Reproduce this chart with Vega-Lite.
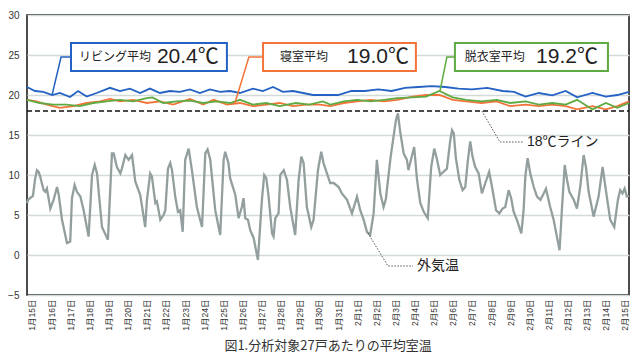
{
  "$schema": "https://vega.github.io/schema/vega-lite/v6.json",
  "width": 602,
  "height": 280,
  "autosize": {"type": "none"},
  "padding": {"left": 27, "top": 15, "right": 11, "bottom": 64},
  "background": "white",
  "config": {
    "view": {"stroke": "#111", "strokeWidth": 1.5},
    "font": "Liberation Sans, Noto Sans CJK JP"
  },
  "title": {
    "text": "図1.分析対象27戸あたりの平均室温",
    "orient": "bottom",
    "fontSize": 13,
    "fontWeight": "normal",
    "color": "#333",
    "font": "Noto Sans CJK JP",
    "offset": 10
  },
  "datasets": {
    "outdoor": [
      {"d": -0.26, "v": 6.5}, {"d": -0.2, "v": 6.9}, {"d": -0.1, "v": 7.1}, {"d": 0.05, "v": 7.4}, {"d": 0.17, "v": 9.6}, {"d": 0.26, "v": 10.6}, {"d": 0.35, "v": 10.4}, {"d": 0.43, "v": 9.8}, {"d": 0.61, "v": 8.1}, {"d": 0.7, "v": 7.9}, {"d": 0.78, "v": 8.3}, {"d": 0.96, "v": 5.8}, {"d": 1.13, "v": 6.9}, {"d": 1.31, "v": 8.5}, {"d": 1.4, "v": 7.5}, {"d": 1.57, "v": 4.4}, {"d": 1.83, "v": 1.5}, {"d": 2.0, "v": 1.7}, {"d": 2.09, "v": 7.1}, {"d": 2.23, "v": 8.75}, {"d": 2.35, "v": 7.9}, {"d": 2.53, "v": 7.3}, {"d": 2.7, "v": 5.6}, {"d": 2.96, "v": 2.3}, {"d": 3.14, "v": 10.0}, {"d": 3.28, "v": 11.25}, {"d": 3.4, "v": 10.2}, {"d": 3.66, "v": 3.5}, {"d": 3.97, "v": 1.9}, {"d": 4.18, "v": 12.7}, {"d": 4.27, "v": 12.7}, {"d": 4.44, "v": 11.0}, {"d": 4.62, "v": 10.2}, {"d": 4.7, "v": 10.8}, {"d": 4.88, "v": 12.5}, {"d": 5.05, "v": 11.9}, {"d": 5.23, "v": 12.5}, {"d": 5.4, "v": 9.2}, {"d": 5.66, "v": 7.5}, {"d": 5.92, "v": 3.5}, {"d": 6.01, "v": 6.9}, {"d": 6.18, "v": 10.2}, {"d": 6.27, "v": 9.8}, {"d": 6.45, "v": 6.5}, {"d": 6.53, "v": 6.7}, {"d": 6.71, "v": 4.4}, {"d": 6.88, "v": 5.0}, {"d": 6.97, "v": 5.6}, {"d": 7.11, "v": 10.8}, {"d": 7.23, "v": 11.5}, {"d": 7.32, "v": 10.6}, {"d": 7.49, "v": 7.3}, {"d": 7.63, "v": 5.4}, {"d": 7.75, "v": 5.6}, {"d": 7.88, "v": 2.9}, {"d": 8.01, "v": 11.9}, {"d": 8.19, "v": 13.3}, {"d": 8.36, "v": 10.6}, {"d": 8.62, "v": 6.0}, {"d": 8.89, "v": 3.5}, {"d": 9.06, "v": 12.7}, {"d": 9.18, "v": 13.2}, {"d": 9.32, "v": 11.9}, {"d": 9.58, "v": 5.6}, {"d": 9.84, "v": 2.5}, {"d": 10.02, "v": 11.9}, {"d": 10.1, "v": 12.9}, {"d": 10.27, "v": 11.5}, {"d": 10.36, "v": 9.6}, {"d": 10.63, "v": 7.5}, {"d": 10.8, "v": 4.6}, {"d": 10.97, "v": 6.0}, {"d": 11.06, "v": 7.1}, {"d": 11.15, "v": 4.6}, {"d": 11.29, "v": 4.4}, {"d": 11.41, "v": 3.1}, {"d": 11.59, "v": 2.1}, {"d": 11.81, "v": -0.6}, {"d": 12.02, "v": 6.9}, {"d": 12.14, "v": 10.0}, {"d": 12.25, "v": 9.6}, {"d": 12.37, "v": 7.3}, {"d": 12.55, "v": 2.7}, {"d": 12.63, "v": 2.3}, {"d": 12.72, "v": 4.6}, {"d": 12.89, "v": 5.2}, {"d": 12.98, "v": 10.0}, {"d": 13.16, "v": 10.6}, {"d": 13.33, "v": 9.4}, {"d": 13.5, "v": 6.0}, {"d": 13.76, "v": 2.5}, {"d": 13.94, "v": 9.4}, {"d": 14.08, "v": 12.3}, {"d": 14.2, "v": 11.5}, {"d": 14.37, "v": 6.0}, {"d": 14.6, "v": 3.5}, {"d": 14.72, "v": 4.4}, {"d": 14.95, "v": 10.6}, {"d": 15.12, "v": 12.9}, {"d": 15.24, "v": 11.5}, {"d": 15.42, "v": 10.2}, {"d": 15.59, "v": 9.0}, {"d": 15.77, "v": 9.0}, {"d": 16.03, "v": 8.5}, {"d": 16.2, "v": 7.7}, {"d": 16.47, "v": 6.9}, {"d": 16.73, "v": 5.2}, {"d": 16.99, "v": 7.3}, {"d": 17.16, "v": 5.6}, {"d": 17.34, "v": 4.4}, {"d": 17.51, "v": 2.9}, {"d": 17.68, "v": 2.5}, {"d": 17.86, "v": 5.2}, {"d": 18.03, "v": 11.9}, {"d": 18.21, "v": 7.7}, {"d": 18.38, "v": 6.0}, {"d": 18.5, "v": 7.0}, {"d": 18.73, "v": 11.9}, {"d": 18.9, "v": 14.8}, {"d": 19.03, "v": 16.9}, {"d": 19.13, "v": 17.7}, {"d": 19.25, "v": 15.4}, {"d": 19.43, "v": 12.7}, {"d": 19.6, "v": 11.9}, {"d": 19.68, "v": 10.6}, {"d": 19.83, "v": 12.1}, {"d": 19.98, "v": 13.5}, {"d": 20.13, "v": 9.4}, {"d": 20.3, "v": 6.5}, {"d": 20.48, "v": 5.4}, {"d": 20.69, "v": 4.6}, {"d": 20.87, "v": 11.0}, {"d": 21.03, "v": 13.3}, {"d": 21.16, "v": 12.1}, {"d": 21.34, "v": 10.0}, {"d": 21.51, "v": 10.4}, {"d": 21.69, "v": 10.8}, {"d": 21.87, "v": 14.4}, {"d": 21.96, "v": 15.6}, {"d": 22.05, "v": 15.2}, {"d": 22.16, "v": 12.1}, {"d": 22.34, "v": 9.4}, {"d": 22.51, "v": 8.1}, {"d": 22.65, "v": 8.5}, {"d": 22.79, "v": 11.9}, {"d": 22.91, "v": 14.2}, {"d": 23.03, "v": 12.3}, {"d": 23.17, "v": 11.0}, {"d": 23.35, "v": 10.2}, {"d": 23.52, "v": 7.7}, {"d": 23.7, "v": 9.0}, {"d": 23.9, "v": 10.4}, {"d": 24.08, "v": 8.1}, {"d": 24.26, "v": 5.6}, {"d": 24.43, "v": 5.2}, {"d": 24.6, "v": 5.8}, {"d": 24.74, "v": 6.0}, {"d": 24.92, "v": 8.1}, {"d": 25.05, "v": 7.1}, {"d": 25.18, "v": 5.4}, {"d": 25.35, "v": 4.4}, {"d": 25.58, "v": 2.7}, {"d": 25.7, "v": 5.6}, {"d": 25.79, "v": 9.8}, {"d": 25.91, "v": 12.1}, {"d": 26.05, "v": 10.2}, {"d": 26.23, "v": 8.5}, {"d": 26.4, "v": 7.3}, {"d": 26.58, "v": 6.9}, {"d": 26.75, "v": 7.7}, {"d": 26.87, "v": 8.3}, {"d": 27.09, "v": 6.0}, {"d": 27.27, "v": 4.4}, {"d": 27.44, "v": 2.3}, {"d": 27.58, "v": 0.6}, {"d": 27.7, "v": 5.6}, {"d": 27.85, "v": 11.25}, {"d": 27.97, "v": 9.4}, {"d": 28.09, "v": 7.9}, {"d": 28.32, "v": 6.9}, {"d": 28.49, "v": 5.8}, {"d": 28.66, "v": 8.5}, {"d": 28.84, "v": 12.5}, {"d": 28.96, "v": 11.0}, {"d": 29.1, "v": 7.9}, {"d": 29.36, "v": 4.8}, {"d": 29.62, "v": 7.3}, {"d": 29.83, "v": 11.0}, {"d": 30.0, "v": 8.1}, {"d": 30.23, "v": 4.4}, {"d": 30.44, "v": 3.5}, {"d": 30.63, "v": 6.9}, {"d": 30.75, "v": 8.1}, {"d": 30.87, "v": 7.7}, {"d": 30.98, "v": 8.3}, {"d": 31.1, "v": 7.3}, {"d": 31.21, "v": 7.4}
    ],
    "living": [
      {"d": -0.26, "v": 21.0}, {"d": 0.16, "v": 20.5}, {"d": 0.59, "v": 20.4}, {"d": 1.06, "v": 20.0}, {"d": 1.46, "v": 20.25}, {"d": 1.99, "v": 19.75}, {"d": 2.41, "v": 20.5}, {"d": 2.86, "v": 19.8}, {"d": 3.38, "v": 20.25}, {"d": 4.08, "v": 20.9}, {"d": 4.6, "v": 20.5}, {"d": 5.12, "v": 20.8}, {"d": 5.65, "v": 20.25}, {"d": 6.17, "v": 20.8}, {"d": 6.69, "v": 20.25}, {"d": 7.21, "v": 20.5}, {"d": 7.74, "v": 20.4}, {"d": 8.26, "v": 20.7}, {"d": 8.78, "v": 20.25}, {"d": 9.3, "v": 20.7}, {"d": 9.83, "v": 20.4}, {"d": 10.35, "v": 20.5}, {"d": 10.87, "v": 20.25}, {"d": 11.55, "v": 20.8}, {"d": 12.07, "v": 20.5}, {"d": 12.6, "v": 21.0}, {"d": 13.12, "v": 20.4}, {"d": 13.64, "v": 20.5}, {"d": 14.17, "v": 20.25}, {"d": 14.69, "v": 20.0}, {"d": 15.42, "v": 20.0}, {"d": 16.0, "v": 20.0}, {"d": 16.7, "v": 20.5}, {"d": 17.4, "v": 20.5}, {"d": 18.1, "v": 20.7}, {"d": 18.8, "v": 20.5}, {"d": 19.5, "v": 20.9}, {"d": 20.2, "v": 21.0}, {"d": 20.9, "v": 21.1}, {"d": 21.6, "v": 21.0}, {"d": 22.3, "v": 20.8}, {"d": 23.0, "v": 20.7}, {"d": 23.8, "v": 20.9}, {"d": 24.6, "v": 20.5}, {"d": 25.2, "v": 20.4}, {"d": 25.8, "v": 19.8}, {"d": 26.5, "v": 20.25}, {"d": 27.2, "v": 19.95}, {"d": 27.9, "v": 20.5}, {"d": 28.5, "v": 19.7}, {"d": 29.3, "v": 20.25}, {"d": 30.0, "v": 19.8}, {"d": 30.6, "v": 20.0}, {"d": 31.21, "v": 20.4}
    ],
    "bedroom": [
      {"d": -0.26, "v": 19.4}, {"d": 0.25, "v": 19.2}, {"d": 0.77, "v": 18.8}, {"d": 1.46, "v": 18.4}, {"d": 2.16, "v": 18.6}, {"d": 2.86, "v": 19.0}, {"d": 3.56, "v": 19.2}, {"d": 4.08, "v": 19.5}, {"d": 4.6, "v": 19.2}, {"d": 5.3, "v": 19.4}, {"d": 6.0, "v": 19.0}, {"d": 6.69, "v": 19.2}, {"d": 7.38, "v": 18.8}, {"d": 8.26, "v": 19.5}, {"d": 8.95, "v": 18.8}, {"d": 9.5, "v": 19.4}, {"d": 10.2, "v": 18.8}, {"d": 10.87, "v": 19.0}, {"d": 11.55, "v": 18.6}, {"d": 12.25, "v": 18.8}, {"d": 12.95, "v": 19.0}, {"d": 13.64, "v": 18.6}, {"d": 14.35, "v": 18.8}, {"d": 15.05, "v": 18.8}, {"d": 15.6, "v": 18.6}, {"d": 16.3, "v": 19.0}, {"d": 17.0, "v": 19.2}, {"d": 17.7, "v": 19.4}, {"d": 18.4, "v": 19.2}, {"d": 19.1, "v": 19.4}, {"d": 19.9, "v": 19.8}, {"d": 20.6, "v": 20.0}, {"d": 21.3, "v": 20.0}, {"d": 22.0, "v": 19.4}, {"d": 22.7, "v": 19.2}, {"d": 23.5, "v": 19.0}, {"d": 24.3, "v": 19.2}, {"d": 25.0, "v": 18.6}, {"d": 25.8, "v": 18.8}, {"d": 26.5, "v": 18.6}, {"d": 27.2, "v": 18.8}, {"d": 27.9, "v": 18.6}, {"d": 28.5, "v": 18.2}, {"d": 29.3, "v": 18.6}, {"d": 30.0, "v": 18.2}, {"d": 30.6, "v": 18.6}, {"d": 31.21, "v": 19.2}
    ],
    "dressing": [
      {"d": -0.26, "v": 19.4}, {"d": 0.4, "v": 19.0}, {"d": 1.1, "v": 18.8}, {"d": 1.8, "v": 18.8}, {"d": 2.5, "v": 18.6}, {"d": 3.2, "v": 19.0}, {"d": 3.9, "v": 19.2}, {"d": 4.6, "v": 19.4}, {"d": 5.3, "v": 19.2}, {"d": 6.0, "v": 19.6}, {"d": 6.3, "v": 19.7}, {"d": 6.86, "v": 19.0}, {"d": 7.56, "v": 19.2}, {"d": 8.26, "v": 19.3}, {"d": 8.95, "v": 19.0}, {"d": 9.65, "v": 19.2}, {"d": 10.35, "v": 19.0}, {"d": 10.87, "v": 19.4}, {"d": 11.55, "v": 18.8}, {"d": 12.25, "v": 19.0}, {"d": 12.95, "v": 18.6}, {"d": 13.8, "v": 19.0}, {"d": 14.5, "v": 18.8}, {"d": 15.2, "v": 19.2}, {"d": 15.6, "v": 18.8}, {"d": 16.3, "v": 19.2}, {"d": 17.0, "v": 19.4}, {"d": 17.7, "v": 19.2}, {"d": 18.4, "v": 19.4}, {"d": 19.1, "v": 19.6}, {"d": 19.9, "v": 19.7}, {"d": 20.6, "v": 19.8}, {"d": 21.3, "v": 20.5}, {"d": 22.0, "v": 19.7}, {"d": 22.7, "v": 19.4}, {"d": 23.5, "v": 19.2}, {"d": 24.3, "v": 19.4}, {"d": 25.0, "v": 19.0}, {"d": 25.8, "v": 19.2}, {"d": 26.5, "v": 18.8}, {"d": 27.2, "v": 19.0}, {"d": 27.9, "v": 18.8}, {"d": 28.5, "v": 19.4}, {"d": 29.3, "v": 18.2}, {"d": 30.0, "v": 19.0}, {"d": 30.6, "v": 18.4}, {"d": 31.21, "v": 19.0}
    ],
    "line18": [{"d": -0.26, "v": 18}, {"d": 31.21, "v": 18}],
    "boxes": [
      {"s": "リビング", "d": 2.04, "v": 26.5, "d2": 10.19, "v2": 23.0},
      {"s": "寝室", "d": 12.08, "v": 26.5, "d2": 20.07, "v2": 23.0},
      {"s": "脱衣室", "d": 22.11, "v": 26.5, "d2": 30.11, "v2": 23.0}
    ],
    "leaders": [
      {"s": "リビング", "d": 1.05, "v": 20.0}, {"s": "リビング", "d": 1.52, "v": 24.75}, {"s": "リビング", "d": 2.04, "v": 24.75},
      {"s": "寝室", "d": 10.61, "v": 19.0}, {"s": "寝室", "d": 11.34, "v": 24.75}, {"s": "寝室", "d": 12.08, "v": 24.75},
      {"s": "脱衣室", "d": 21.33, "v": 20.5}, {"s": "脱衣室", "d": 21.69, "v": 24.75}, {"s": "脱衣室", "d": 22.11, "v": 24.75}
    ],
    "dotted": [
      {"g": "a", "d": 23.52, "v": 18.0}, {"g": "a", "d": 24.46, "v": 14.125}, {"g": "a", "d": 25.72, "v": 14.125},
      {"g": "b", "d": 17.56, "v": 2.75}, {"g": "b", "d": 18.61, "v": -1.375}, {"g": "b", "d": 19.92, "v": -1.375}
    ],
    "small": [
      {"d": 2.46, "v": 24.75, "t": "リビング平均"},
      {"d": 12.96, "v": 24.75, "t": "寝室平均"},
      {"d": 22.63, "v": 24.75, "t": "脱衣室平均"}
    ],
    "big": [
      {"d": 6.53, "v": 24.75, "t": "20.4℃"},
      {"d": 16.47, "v": 24.75, "t": "19.0℃"},
      {"d": 26.35, "v": 24.75, "t": "19.2℃"}
    ],
    "notes": [
      {"d": 25.88, "v": 14.125, "t": "18℃ライン"},
      {"d": 20.13, "v": -1.375, "t": "外気温"}
    ]
  },
  "encoding": {
    "x": {
      "field": "d",
      "type": "quantitative",
      "scale": {"domain": [-0.26, 31.21], "nice": false, "zero": false},
      "axis": {
        "title": null,
        "values": [0, 1, 2, 3, 4, 5, 6, 7, 8, 9, 10, 11, 12, 13, 14, 15, 16, 17, 18, 19, 20, 21, 22, 23, 24, 25, 26, 27, 28, 29, 30, 31],
        "labelExpr": "datum.value <= 16 ? '1月' + (datum.value + 15) + '日' : '2月' + (datum.value - 16) + '日'",
        "labelAngle": 270,
        "labelFontSize": 8.5,
        "labelColor": "#333",
        "labelPadding": 4,
        "labelFlush": false,
        "labelOverlap": false,
        "ticks": false,
        "grid": false,
        "domain": false
      }
    },
    "y": {
      "field": "v",
      "type": "quantitative",
      "scale": {"domain": [-5, 30], "nice": false, "zero": false},
      "axis": {
        "title": null,
        "values": [-5, 0, 5, 10, 15, 20, 25, 30],
        "grid": true,
        "gridColor": "#d3dbda",
        "gridWidth": 1.5,
        "ticks": false,
        "domain": false,
        "labelFontSize": 10,
        "labelColor": "#333",
        "labelPadding": 8,
        "labelFlush": false
      }
    }
  },
  "layer": [
    {"data": {"name": "outdoor"}, "mark": {"type": "line", "color": "#939f9e", "strokeWidth": 2.3}},
    {"data": {"name": "living"}, "mark": {"type": "line", "color": "#2462c4", "strokeWidth": 1.8}},
    {"data": {"name": "bedroom"}, "mark": {"type": "line", "color": "#f3743a", "strokeWidth": 1.8}},
    {"data": {"name": "dressing"}, "mark": {"type": "line", "color": "#5fab43", "strokeWidth": 1.8}},
    {"data": {"name": "line18"}, "mark": {"type": "line", "color": "#111", "strokeWidth": 1.5, "strokeDash": [5, 3]}},
    {
      "data": {"name": "boxes"},
      "mark": {"type": "rect", "fill": "white", "strokeWidth": 2},
      "encoding": {
        "x2": {"field": "d2"},
        "y2": {"field": "v2"},
        "stroke": {"field": "s", "type": "nominal", "scale": {"domain": ["リビング", "寝室", "脱衣室"], "range": ["#2462c4", "#f3743a", "#5fab43"]}, "legend": null}
      }
    },
    {
      "data": {"name": "leaders"},
      "mark": {"type": "line", "strokeWidth": 1.5},
      "encoding": {
        "color": {"field": "s", "type": "nominal", "scale": {"domain": ["リビング", "寝室", "脱衣室"], "range": ["#2462c4", "#f3743a", "#5fab43"]}, "legend": null}
      }
    },
    {
      "data": {"name": "dotted"},
      "mark": {"type": "line", "color": "#555", "strokeWidth": 1, "strokeDash": [1.5, 1.5]},
      "encoding": {"detail": {"field": "g", "type": "nominal"}}
    },
    {
      "data": {"name": "small"},
      "mark": {"type": "text", "align": "left", "baseline": "middle", "fontSize": 12, "font": "Noto Sans CJK JP", "color": "#222"},
      "encoding": {"text": {"field": "t"}}
    },
    {
      "data": {"name": "big"},
      "mark": {"type": "text", "align": "left", "baseline": "middle", "fontSize": 21, "font": "Liberation Sans, Noto Sans CJK JP", "color": "#222"},
      "encoding": {"text": {"field": "t"}}
    },
    {
      "data": {"name": "notes"},
      "mark": {"type": "text", "align": "left", "baseline": "middle", "fontSize": 14, "font": "Liberation Sans, Noto Sans CJK JP", "color": "#222"},
      "encoding": {"text": {"field": "t"}}
    }
  ]
}
